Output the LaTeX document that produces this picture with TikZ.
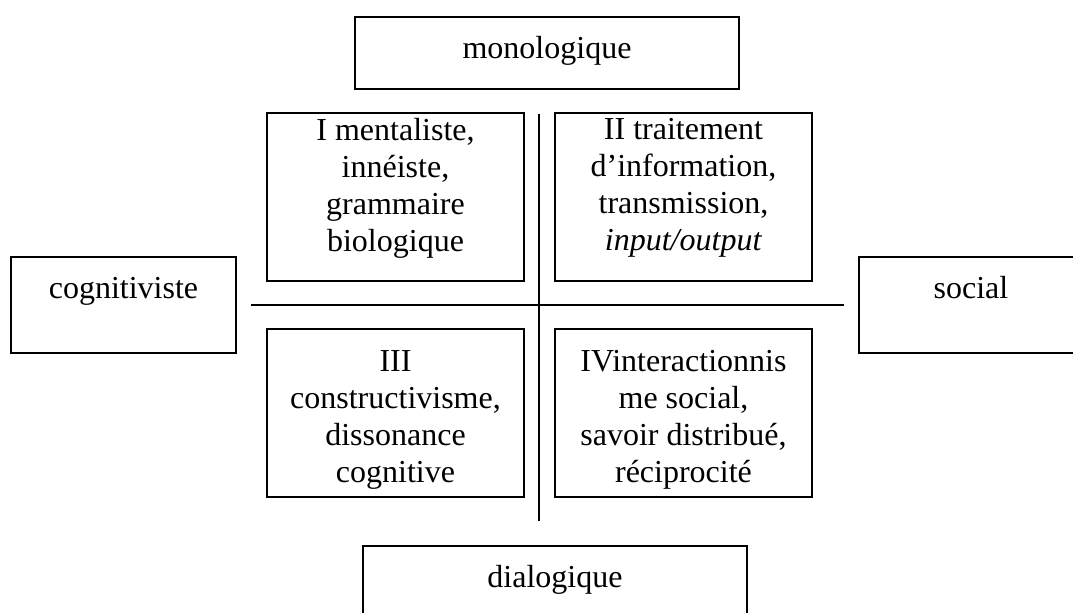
\documentclass[tikz,border=0pt]{standalone}
\usepackage{fontspec}
\setmainfont{Liberation Serif}
\usetikzlibrary{positioning}

\begin{document}
\begin{tikzpicture}[x=0.5pt,y=-0.5pt,
  kasten/.style={draw,line width=0.65pt,inner sep=0pt,outer sep=0pt,anchor=north west},
  grand/.style={kasten,minimum width=128.5pt,minimum height=84pt},
  etikett/.style={font=\fontsize{16}{18.5}\selectfont,align=center,inner sep=0pt,
    execute at begin node=\strut}]
\clip (0,0) rectangle (1073,613);
% the two poles, top and bottom, left and right
\node[kasten,minimum width=192pt,minimum height=36pt] (mono) at (355,17) {};
\node[kasten,minimum width=192pt,minimum height=48pt] (dia) at (363,546) {};
\node[kasten,minimum width=112.5pt,minimum height=48pt] (cog) at (11,257) {};
\node[kasten,minimum width=112pt,minimum height=48pt] (soc) at (859,257) {};
\node[etikett,below=7.5pt of mono.north] (monoT) {monologique};
\node[etikett,below=7.5pt of dia.north] (diaT) {dialogique};
\node[etikett,below=7.5pt of cog.north] (cogT) {cognitiviste};
\node[etikett,below=7.5pt of soc.north] (socT) {social};
% the four quadrants
\node[grand] (q1) at (267,113) {};
\node[grand] (q2) at (555,113) {};
\node[grand] (q3) at (267,329) {};
\node[grand] (q4) at (555,329) {};
\node[etikett,below=2.5pt of q1.north] (q1T) {I mentaliste,\\ innéiste,\\ grammaire\\ biologique};
\node[etikett,below=2.5pt of q2.north] (q2T) {II traitement\\ d’information,\\ transmission,\\ \textit{input/output}};
\node[etikett,below=10.5pt of q3.north] (q3T) {III\\ constructivisme,\\ dissonance\\ cognitive};
\node[etikett,below=10.5pt of q4.north] (q4T) {IVinteractionnis\\ me social,\\ savoir distribué,\\ réciprocité};
% axes
\coordinate (oben) at (539,114);
\coordinate (unten) at (539,521);
\coordinate (links) at (251,305);
\coordinate (rechts) at (844,305);
\draw[line width=1pt] (oben) -- (unten);
\draw[line width=0.65pt] (links) -- (rechts);
\end{tikzpicture}
\end{document}
